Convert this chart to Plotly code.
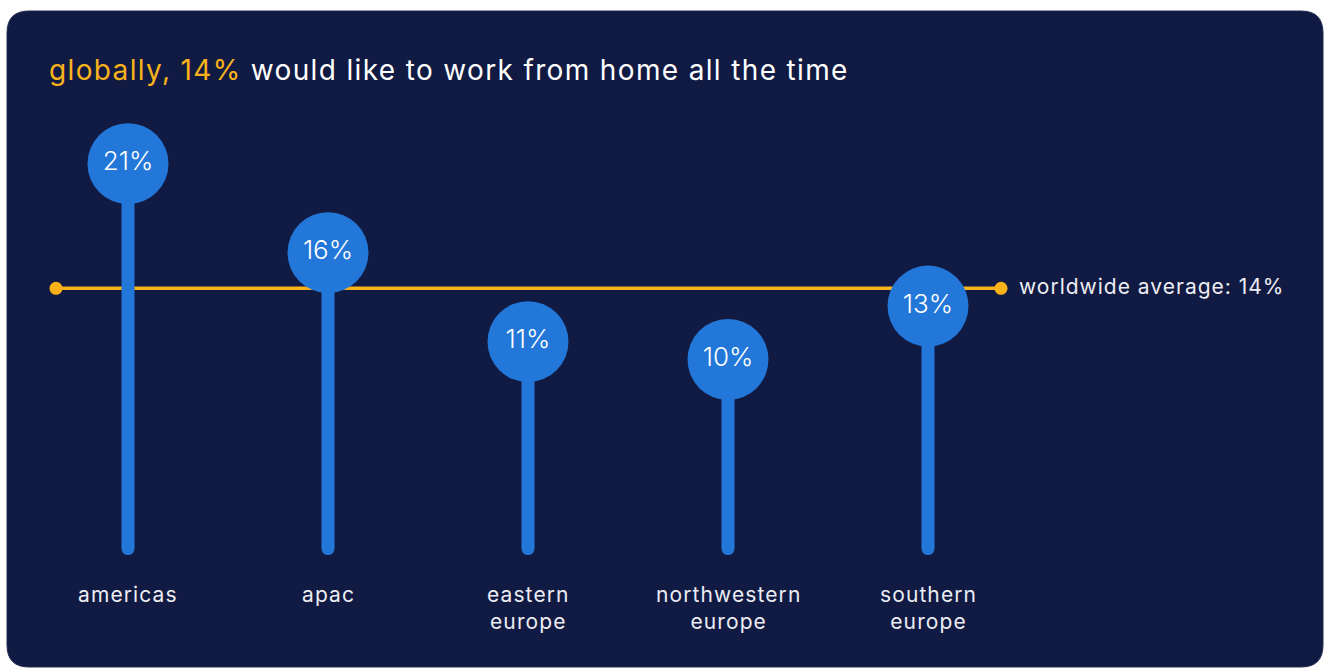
import plotly.graph_objects as go

# data
regions = ["americas", "apac", "eastern<br>europe", "northwestern<br>europe", "southern<br>europe"]
share = [21, 16, 11, 10, 13]
labels = ["21%", "16%", "11%", "10%", "13%"]
world_avg = 14

W, H = 1324, 668
NAVY = "#111A42"
BLUE = "#2277D9"
ORANGE = "#F9B21A"
FONT = "Inter"
TXT = "#ECEDF3"

# pixel helpers for paper coords
def px(x):
    return x / W

def py(y):
    return 1 - y / H

def spaced(s, sp):
    # wider tracking to get closer to the original typeface
    return "<br>".join("<span style='letter-spacing:%spx'>%s</span>" % (sp, part) for part in s.split("<br>"))

xs = list(range(len(regions)))
stem_base = -0.62

stem_x, stem_y = [], []
for i, v in zip(xs, share):
    stem_x += [i, i, None]
    stem_y += [stem_base, v, None]

fig = go.Figure()

# worldwide average line
avg_x = [-0.36, 4.365]
fig.add_trace(go.Scatter(
    x=avg_x, y=[world_avg, world_avg], mode="lines+markers",
    line=dict(color=ORANGE, width=3.5),
    marker=dict(color=ORANGE, size=13),
    hoverinfo="skip"))

# stems
fig.add_trace(go.Scatter(
    x=stem_x, y=stem_y, mode="lines",
    line=dict(color=BLUE, width=13),
    hoverinfo="skip"))
# rounded bottom of stems
fig.add_trace(go.Scatter(
    x=xs, y=[stem_base] * len(xs), mode="markers",
    marker=dict(color=BLUE, size=13),
    hoverinfo="skip"))

# heads
fig.add_trace(go.Scatter(
    x=xs, y=share, mode="markers+text",
    marker=dict(color=BLUE, size=81),
    text=labels, textposition="middle center",
    textfont=dict(family=FONT, size=26, color="white", weight=300),
    hoverinfo="skip"))

# category labels
for i, r in zip(xs, regions):
    fig.add_annotation(x=i, xref="x", y=py(580), yref="paper",
                       text=spaced(r, 1.1), showarrow=False, xanchor="center", yanchor="top",
                       align="center",
                       font=dict(family=FONT, size=21, color=TXT))

fig.add_annotation(x=px(1017), y=py(286), xref="paper", yref="paper",
                   text=spaced("worldwide average: %d%%" % world_avg, 1.0), showarrow=False,
                   xanchor="left", yanchor="middle",
                   font=dict(family=FONT, size=21, color=TXT))

fig.add_annotation(x=px(47), y=py(70), xref="paper", yref="paper",
                   text="<span style='letter-spacing:1.35px'><span style='color:%s'>globally, %d%%</span> would like to work from home all the time</span>" % (ORANGE, world_avg),
                   showarrow=False, xanchor="left", yanchor="middle",
                   font=dict(family=FONT, size=28, color="white"))

# rounded navy card
x0, x1 = px(7), px(1323)
y0, y1 = py(667), py(11)
rx, ry = 22 / W, 22 / H
path = ("M {a},{t} L {b},{t} Q {r},{t} {r},{c} L {r},{d} Q {r},{bt} {b},{bt} "
        "L {a},{bt} Q {l},{bt} {l},{d} L {l},{c} Q {l},{t} {a},{t} Z").format(
    a=x0 + rx, b=x1 - rx, l=x0, r=x1, t=y1, bt=y0, c=y1 - ry, d=y0 + ry)
fig.add_shape(type="path", path=path, xref="paper", yref="paper",
              fillcolor=NAVY, line=dict(color="#222A50", width=1), layer="below")

# scale: 200 px per category, ~17.8 px per percentage point
Y0 = 537.5
fig.update_xaxes(range=[-0.64, -0.64 + W / 200], visible=False, fixedrange=True)
fig.update_yaxes(range=[(Y0 - H) / 17.8, Y0 / 17.8], visible=False, fixedrange=True)

fig.update_layout(
    width=W, height=H,
    margin=dict(l=0, r=0, t=0, b=0),
    paper_bgcolor="white",
    plot_bgcolor="rgba(0,0,0,0)",
    showlegend=False,
)

# drop the default body margin so the figure sits at the window origin
fig.write_html("out.html", config={"displayModeBar": False},
               post_script="document.body.style.margin='0';document.body.style.overflow='hidden';")
